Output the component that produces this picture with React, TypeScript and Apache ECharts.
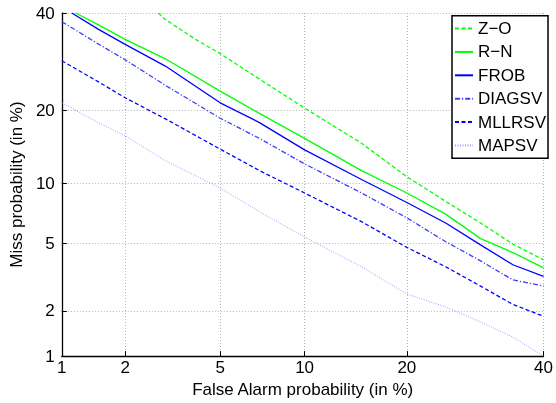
import React, { useEffect, useRef } from "react";
import * as echarts from "echarts";

const tickPercents = [1, 2, 5, 10, 20, 40];
const tickLabels = ["1", "2", "5", "10", "20", "40"];

const seriesNames = ["Z\u2212O", "R\u2212N", "FROB", "DIAGSV", "MLLRSV", "MAPSV"];

const zoFA = [2.8, 3, 4, 5, 7, 10, 15, 20, 25, 30, 35, 40];
const zoMiss = [40, 38.5, 34, 30.9, 25.7, 20.4, 14.9, 10.7, 8.2, 6.4, 4.95, 4.05];

const rnFA = [1.17, 1.5, 2, 3, 5, 7, 10, 15, 20, 25, 30, 35, 40];
const rnMiss = [40, 37.3, 34, 29.8, 23.4, 19.5, 15.6, 11.4, 9.0, 7.1, 5.3, 4.45, 3.65];

const frobFA = [1.12, 1.5, 2, 3, 5, 7, 10, 15, 20, 25, 30, 35, 40];
const frobMiss = [40, 36.3, 32.9, 28.3, 21.3, 18.0, 14.0, 10.4, 8.1, 6.4, 4.9, 3.8, 3.25];

const diagFA = [1, 1.5, 2, 3, 5, 7, 10, 15, 20, 25, 30, 35, 40];
const diagMiss = [38.0, 33.0, 29.6, 24.5, 18.7, 15.6, 12.2, 9.0, 6.8, 5.1, 4.0, 3.1, 2.85];

const mllrFA = [1, 1.5, 2, 3, 5, 7, 10, 15, 20, 25, 30, 35, 40];
const mllrMiss = [29.4, 25.2, 22.2, 18.6, 14.1, 11.4, 9.0, 6.5, 4.75, 3.7, 2.85, 2.2, 1.85];

const mapFA = [1, 1.5, 2, 3, 5, 7, 10, 15, 20, 25, 30, 35, 40];
const mapMiss = [21.3, 18.0, 16.0, 12.6, 9.5, 7.3, 5.4, 3.7, 2.55, 2.12, 1.7, 1.35, 1.0];

const FONT = "'Liberation Sans', Arial, Helvetica, sans-serif";

function probit(p: number): number {
  const a = [-3.969683028665376e1, 2.209460984245205e2, -2.759285104469687e2, 1.38357751867269e2, -3.066479806614716e1, 2.506628277459239];
  const b = [-5.447609879822406e1, 1.615858368580409e2, -1.556989798598866e2, 6.680131188771972e1, -1.328068155288572e1];
  const c = [-7.784894002430293e-3, -3.223964580411365e-1, -2.400758277161838, -2.549732539343734, 4.374664141464968, 2.938163982698783];
  const d = [7.784695709041462e-3, 3.224671290700398e-1, 2.445134137142996, 3.754408661907416];
  const pl = 0.02425;
  const ph = 1 - pl;
  let q: number, r: number;
  if (p < pl) {
    q = Math.sqrt(-2 * Math.log(p));
    return (((((c[0] * q + c[1]) * q + c[2]) * q + c[3]) * q + c[4]) * q + c[5]) / ((((d[0] * q + d[1]) * q + d[2]) * q + d[3]) * q + 1);
  } else if (p <= ph) {
    q = p - 0.5;
    r = q * q;
    return ((((((a[0] * r + a[1]) * r + a[2]) * r + a[3]) * r + a[4]) * r + a[5]) * q) / (((((b[0] * r + b[1]) * r + b[2]) * r + b[3]) * r + b[4]) * r + 1);
  }
  q = Math.sqrt(-2 * Math.log(1 - p));
  return -(((((c[0] * q + c[1]) * q + c[2]) * q + c[3]) * q + c[4]) * q + c[5]) / ((((d[0] * q + d[1]) * q + d[2]) * q + d[3]) * q + 1);
}

const tickVals = tickPercents.map((p) => probit(p / 100));
const axisMin = tickVals[0];
const axisMax = tickVals[tickVals.length - 1];

function fmt(v: number): string {
  let best = 0;
  for (let i = 1; i < tickVals.length; i++) {
    if (Math.abs(tickVals[i] - v) < Math.abs(tickVals[best] - v)) best = i;
  }
  return tickLabels[best];
}

function toPts(fa: number[], miss: number[]) {
  return fa.map((f, i) => [probit(f / 100), probit(miss[i] / 100)]);
}

function makeAxis(isY: boolean) {
  return {
    type: "value",
    min: axisMin,
    max: axisMax,
    name: isY ? "Miss probability (in %)" : "False Alarm probability (in %)",
    nameLocation: "middle",
    nameGap: isY ? 22 : 18,
    nameRotate: isY ? 90 : 0,
    nameTextStyle: { fontSize: 17, color: "#000", fontFamily: FONT },
    axisLine: { show: true, onZero: false, lineStyle: { color: "#000", width: 1.3 } },
    axisTick: { show: true, inside: true, length: 5, customValues: tickVals, lineStyle: { color: "#000", width: 1 } },
    axisLabel: {
      customValues: tickVals,
      formatter: fmt,
      fontSize: 17,
      color: "#000",
      fontFamily: FONT,
      margin: isY ? 7 : 3,
      showMinLabel: true,
      showMaxLabel: true,
      hideOverlap: false,
    },
    splitLine: { show: true, lineStyle: { color: "#b4b4b4", type: [1, 2], width: 1 } },
  };
}

export default function App() {
  const ref = useRef<HTMLDivElement>(null);
  useEffect(() => {
    if (!ref.current) return;
    const chart = echarts.init(ref.current, null, { renderer: "svg" });
    const defs = [
      { fa: zoFA, miss: zoMiss, color: "#00ff00", type: [4, 2.5], width: 1.3 },
      { fa: rnFA, miss: rnMiss, color: "#00ff00", type: "solid", width: 1.3 },
      { fa: frobFA, miss: frobMiss, color: "#0000ff", type: "solid", width: 1.3 },
      { fa: diagFA, miss: diagMiss, color: "#3c3cff", type: [5, 2, 1.2, 2], width: 1.3 },
      { fa: mllrFA, miss: mllrMiss, color: "#0000ff", type: [4, 2.5], width: 1.3 },
      { fa: mapFA, miss: mapMiss, color: "#9a9aff", type: [1, 1.5], width: 1 },
    ];
    chart.setOption({
      animation: false,
      textStyle: { fontFamily: FONT },
      grid: { left: 57, right: 7, top: 13, bottom: 39, containLabel: false },
      xAxis: makeAxis(false),
      yAxis: makeAxis(true),
      legend: {
        orient: "vertical",
        left: 452,
        top: 15.7,
        padding: [4.3, 2, 4.3, 2],
        itemWidth: 18,
        itemHeight: 14,
        itemGap: 6.4,
        backgroundColor: "#fff",
        borderColor: "#000",
        borderWidth: 1.5,
        borderRadius: 0,
        itemStyle: { opacity: 0 },
        textStyle: { fontSize: 17, color: "#000", fontFamily: FONT, lineHeight: 14 },
        data: seriesNames,
      },
      series: defs.map((d, i) => ({
        name: seriesNames[i],
        type: "line",
        data: toPts(d.fa, d.miss),
        symbol: "none",
        showSymbol: false,
        clip: true,
        lineStyle: { color: d.color, width: d.width, type: d.type },
        itemStyle: { color: d.color },
      })),
    });
    return () => chart.dispose();
  }, []);
  return <div ref={ref} style={{ position: "fixed", left: 0, top: 0, width: 556, height: 403 }} />;
}
